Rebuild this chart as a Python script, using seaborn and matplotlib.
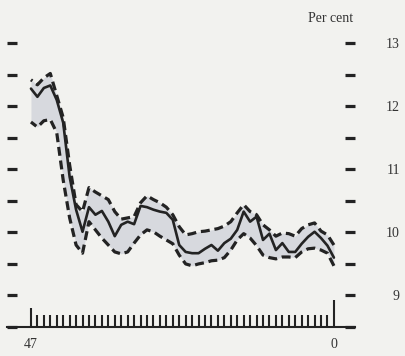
import matplotlib
matplotlib.use("Agg")
import matplotlib.pyplot as plt
import numpy as np
import pandas as pd
import seaborn as sns

# Months before the latest observation (47 = oldest, 0 = latest)
months = list(range(47, -1, -1))

# Central estimate, per cent
centre = [12.28, 12.15, 12.29, 12.33, 12.10, 11.74, 10.88, 10.36, 10.01, 10.40,
          10.28, 10.34, 10.17, 9.94, 10.12, 10.17, 10.13, 10.42, 10.40, 10.36,
          10.33, 10.31, 10.20, 9.80, 9.69, 9.67, 9.67, 9.74, 9.80, 9.71,
          9.83, 9.90, 10.04, 10.33, 10.17, 10.25, 9.88, 9.98, 9.72, 9.83,
          9.69, 9.69, 9.82, 9.93, 10.01, 9.91, 9.79, 9.60]

# Upper bound of the range, per cent
upper = [12.42, 12.34, 12.45, 12.52, 12.17, 11.82, 11.07, 10.44, 10.33, 10.71,
         10.64, 10.58, 10.52, 10.33, 10.21, 10.23, 10.25, 10.47, 10.58, 10.52,
         10.47, 10.40, 10.28, 10.09, 9.96, 9.98, 10.01, 10.02, 10.04, 10.06,
         10.10, 10.17, 10.31, 10.44, 10.33, 10.28, 10.12, 10.04, 9.94, 9.99,
         9.98, 9.94, 10.06, 10.12, 10.15, 10.02, 9.96, 9.80]

# Lower bound of the range, per cent
lower = [11.75, 11.67, 11.77, 11.79, 11.58, 10.83, 10.23, 9.80, 9.67, 10.17,
         10.04, 9.91, 9.80, 9.69, 9.66, 9.69, 9.83, 9.96, 10.04, 10.01,
         9.94, 9.88, 9.82, 9.64, 9.50, 9.47, 9.50, 9.52, 9.55, 9.56,
         9.60, 9.72, 9.88, 9.98, 9.91, 9.79, 9.64, 9.60, 9.58, 9.61,
         9.61, 9.60, 9.69, 9.74, 9.75, 9.72, 9.67, 9.47]

y_major = [9, 10, 11, 12, 13]
y_minor = [8.5, 9.5, 10.5, 11.5, 12.5]
x_labelled = [47, 0]

sns.set_style("white")
plt.rcParams["font.family"] = ["Liberation Serif", "DejaVu Serif"]

bg = "#f2f2ef"
ink = "#232323"

df = pd.DataFrame({"month": months, "centre": centre, "upper": upper, "lower": lower})

fig = plt.figure(figsize=(4.06, 3.56), dpi=100, facecolor=bg)
ax = fig.add_axes([0.0172, 0.0815, 0.857, 0.806])
ax.set_facecolor(bg)

ax.fill_between(df["month"], df["lower"], df["upper"], color="#d7d9de", lw=0, zorder=1)
sns.lineplot(data=df, x="month", y="upper", ax=ax, color=ink, lw=2.3,
             zorder=3).lines[-1].set_dashes((2.8, 1.5))
sns.lineplot(data=df, x="month", y="lower", ax=ax, color=ink, lw=2.3,
             zorder=3).lines[-1].set_dashes((2.8, 1.5))
sns.lineplot(data=df, x="month", y="centre", ax=ax, color=ink, lw=1.9, zorder=4)

ax.set_xlim(50.72, -3.26)
ax.set_ylim(8.5, 13.05)
ax.set_xlabel("")
ax.set_ylabel("")

for side in ["top", "left", "right"]:
    ax.spines[side].set_visible(False)
ax.spines["bottom"].set_color(ink)
ax.spines["bottom"].set_linewidth(1.5)

# y: short dashes on both sides, labels on the right
ax.set_yticks(y_major)
ax.set_yticks(y_minor, minor=True)
ax.tick_params(axis="y", which="both", direction="in", left=True, right=True,
               length=7, width=2.3, color=ink, labelleft=False, labelright=True,
               pad=32.4, labelsize=10, labelcolor="#333333")
for lab in ax.get_yticklabels():
    lab.set_horizontalalignment("right")

# x: monthly ticks rising from the baseline, ends labelled
ax.set_xticks(x_labelled)
ax.set_xticklabels([str(v) for v in x_labelled])
ax.set_xticks([m for m in months if m not in x_labelled], minor=True)
ax.tick_params(axis="x", which="minor", direction="in", bottom=True, length=8.6,
               width=1.5, color=ink)
ax.tick_params(axis="x", which="major", direction="in", bottom=True, length=13.7,
               width=1.5, color=ink, pad=8, labelsize=10, labelcolor="#333333")
major_ticks = ax.xaxis.get_major_ticks()
major_ticks[1].tick1line.set_markersize(19.4)

fig.text(0.815, 0.947, "Per cent", ha="center", va="center", fontsize=10, color="#333333")

fig.savefig("out.png", dpi=100, facecolor=bg)
